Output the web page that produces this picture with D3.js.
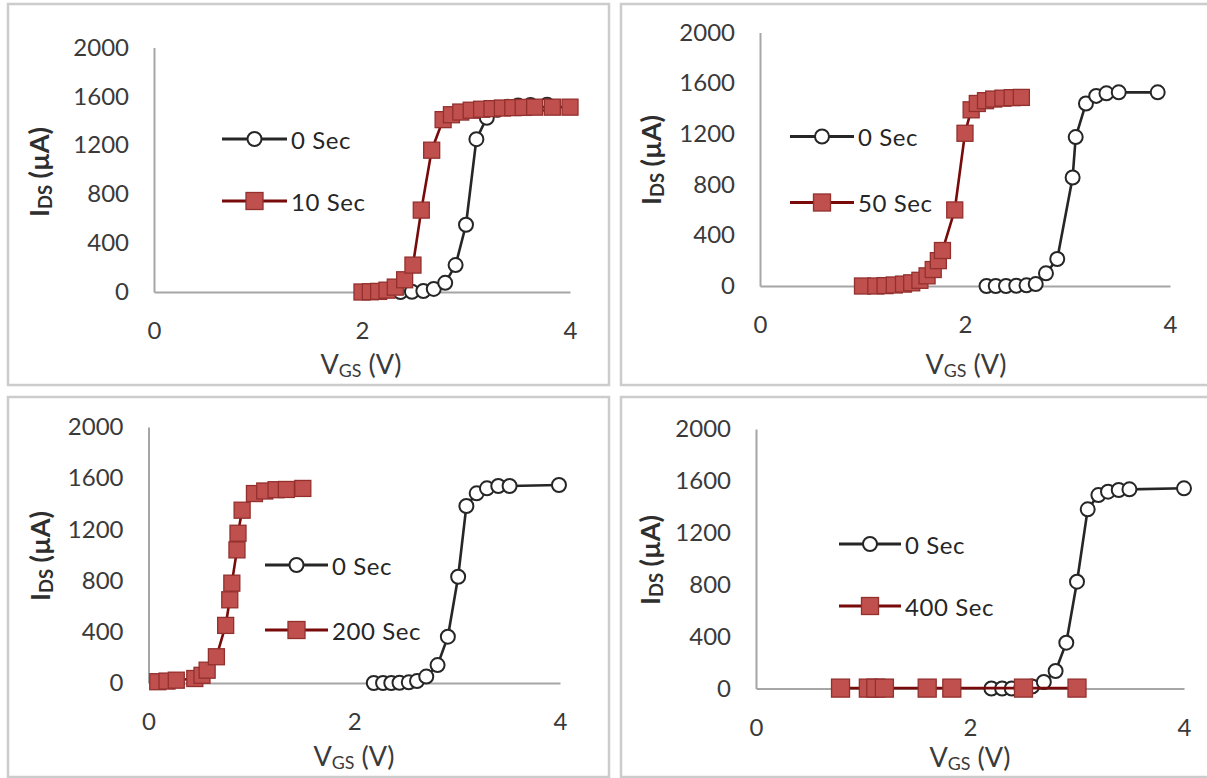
<!DOCTYPE html>
<html><head><meta charset="utf-8">
<script src="https://cdn.jsdelivr.net/npm/d3@7"></script>
<style>
body{margin:0;background:#fff}
svg{display:block}
text{font-family:Lato,"Open Sans",sans-serif}
</style>
</head><body>
<svg id="c" width="1207" height="778"></svg>
<script>
// ---------- data ----------
const xTicks = [0, 2, 4];
const yTicks = [0, 400, 800, 1200, 1600, 2000];
const legendLabels = [["0 Sec","10 Sec"],["0 Sec","50 Sec"],["0 Sec","200 Sec"],["0 Sec","400 Sec"]];

// [VGS (V), IDS (uA)]
const p1_0sec = [[2.20,0],[2.37,0],[2.48,2],[2.59,8],[2.69,25],[2.80,75],[2.90,220],[3.00,550],[3.10,1250],[3.20,1425],[3.30,1490],[3.40,1515],[3.50,1525],[3.62,1530],[3.78,1532]];
const p1_10sec = [[2.00,0],[2.08,2],[2.16,5],[2.24,15],[2.32,40],[2.41,100],[2.49,220],[2.57,670],[2.67,1160],[2.78,1410],[2.86,1450],[2.95,1472],[3.05,1487],[3.15,1495],[3.25,1500],[3.35,1505],[3.45,1508],[3.55,1510],[3.66,1512],[3.83,1512],[4.00,1512]];

const p2_0sec = [[2.21,0],[2.30,0],[2.40,0],[2.50,2],[2.60,5],[2.69,15],[2.79,100],[2.90,213],[3.05,856],[3.08,1175],[3.18,1440],[3.28,1500],[3.38,1520],[3.50,1528],[3.88,1528]];
const p2_50sec = [[1.00,0],[1.13,0],[1.22,3],[1.31,8],[1.40,15],[1.48,25],[1.56,45],[1.63,80],[1.69,130],[1.74,200],[1.78,280],[1.90,600],[2.00,1205],[2.06,1390],[2.12,1440],[2.20,1462],[2.28,1475],[2.37,1482],[2.46,1486],[2.55,1488]];

const p3_0sec = [[2.19,0],[2.28,0],[2.36,0],[2.44,2],[2.53,5],[2.61,15],[2.70,50],[2.81,140],[2.91,362],[3.01,830],[3.09,1383],[3.19,1482],[3.29,1521],[3.40,1539],[3.51,1539],[3.99,1547]];
const p3_200sec = [[0.09,10],[0.18,15],[0.27,22],[0.45,35],[0.52,60],[0.57,100],[0.66,205],[0.75,450],[0.79,650],[0.81,780],[0.86,1040],[0.87,1170],[0.91,1350],[1.03,1480],[1.13,1500],[1.24,1510],[1.34,1512],[1.50,1520]];

const p4_0sec = [[2.20,0],[2.30,0],[2.39,0],[2.48,5],[2.58,15],[2.69,50],[2.80,135],[2.90,353],[3.00,823],[3.10,1381],[3.20,1491],[3.29,1517],[3.39,1530],[3.49,1535],[4.00,1543]];
const p4_400sec = [[0.79,3],[1.05,3],[1.12,3],[1.20,3],[1.60,3],[1.83,3],[2.50,3],[3.00,3]];

const panelSeries = [[p1_0sec,p1_10sec],[p2_0sec,p2_50sec],[p3_0sec,p3_200sec],[p4_0sec,p4_400sec]];

// ---------- layout ----------
const layout = [
  {box:[8,4,609,385],  px:[154,570],  py:[292,47.5], leg:{x1:222,x2:287,ya:139,yb:201,tx:291}, xt:[361,363], yt:[38,172], ms:16},
  {box:[621,4,1215,385], px:[760,1170], py:[286,32.5], leg:{x1:790,x2:854,ya:136.5,yb:202.5,tx:858}, xt:[966,363], yt:[650,160], ms:16},
  {box:[8,397,609,777], px:[148.5,560], py:[683,427], leg:{x1:265,x2:328,ya:565,yb:630,tx:332}, xt:[354,755], yt:[39,556], ms:16},
  {box:[621,397,1215,777], px:[756,1184], py:[688.5,429], leg:{x1:839,x2:901,ya:544,yb:606,tx:905}, xt:[970,756], yt:[649,560], ms:18}
];

const FS = 24, TFS = 27;
const C0 = "#262626", C1 = "#780a0a", SQF = "#c0504d", SQS = "#93302e";
const svg = d3.select("#c");

function sq(g, x, y, s){
  g.append("rect").attr("x", x - s/2).attr("y", y - s/2).attr("width", s).attr("height", s)
    .attr("fill", SQF).attr("stroke", SQS).attr("stroke-width", 1.3);
}
function circ(g, x, y){
  g.append("circle").attr("cx", x).attr("cy", y).attr("r", 7)
    .attr("fill", "#fff").attr("stroke", C0).attr("stroke-width", 2);
}

layout.forEach((L, i) => {
  const g = svg.append("g");
  g.append("rect").attr("x", L.box[0]).attr("y", L.box[1])
    .attr("width", L.box[2]-L.box[0]).attr("height", L.box[3]-L.box[1])
    .attr("fill", "#fff").attr("stroke", "#cccccc").attr("stroke-width", 2.5);

  const x = d3.scaleLinear().domain([0,4]).range(L.px);
  const y = d3.scaleLinear().domain([0,2000]).range(L.py);

  const ya = g.append("g").attr("transform", `translate(${L.px[0]},0)`)
    .call(d3.axisLeft(y).tickValues(yTicks).tickSize(0).tickPadding(25).tickFormat(d3.format("d")));
  const xa = g.append("g").attr("transform", `translate(0,${L.py[0]})`)
    .call(d3.axisBottom(x).tickValues(xTicks).tickSize(0).tickPadding(30).tickFormat(d3.format("d")));
  [ya, xa].forEach(a => {
    a.select(".domain").attr("stroke", "#a6a6a6").attr("stroke-width", 2);
    a.selectAll("text").attr("font-size", FS).attr("fill", "#3a3a3a");
    a.attr("font-family", null).attr("font-size", null);
  });

  const xt = g.append("text").attr("x", L.xt[0]).attr("y", L.xt[1]).attr("text-anchor", "middle")
    .attr("dominant-baseline", "central").attr("font-size", TFS).attr("fill", "#3a3a3a");
  xt.append("tspan").text("V");
  xt.append("tspan").attr("font-size", TFS*0.66).attr("dy", 7).text("GS");
  xt.append("tspan").attr("dy", -7).text(" (V)");

  const yt = g.append("text").attr("transform", `translate(${L.yt[0]},${L.yt[1]}) rotate(-90)`)
    .attr("text-anchor", "middle").attr("dominant-baseline", "central")
    .attr("font-size", TFS).attr("font-weight", "bold").attr("fill", "#2e2e2e");
  yt.append("tspan").text("I");
  yt.append("tspan").attr("font-size", TFS*0.68).attr("dy", 7).text("DS");
  yt.append("tspan").attr("dy", -7).text(" (\u00b5A)");

  const line = d3.line().x(d => x(d[0])).y(d => y(d[1]));
  const [s0, s1] = panelSeries[i];
  g.append("path").datum(s0).attr("d", line).attr("fill", "none").attr("stroke", C0).attr("stroke-width", 2.6);
  s0.forEach(d => circ(g, x(d[0]), y(d[1])));
  g.append("path").datum(s1).attr("d", line).attr("fill", "none").attr("stroke", C1).attr("stroke-width", 2.6);
  s1.forEach(d => sq(g, x(d[0]), y(d[1]), L.ms));

  const lg = L.leg;
  g.append("line").attr("x1", lg.x1).attr("x2", lg.x2).attr("y1", lg.ya).attr("y2", lg.ya).attr("stroke", C0).attr("stroke-width", 3);
  circ(g, (lg.x1+lg.x2)/2, lg.ya);
  g.append("line").attr("x1", lg.x1).attr("x2", lg.x2).attr("y1", lg.yb).attr("y2", lg.yb).attr("stroke", C1).attr("stroke-width", 3);
  sq(g, (lg.x1+lg.x2)/2, lg.yb, 17);
  [lg.ya, lg.yb].forEach((yy, k) => {
    g.append("text").attr("x", lg.tx).attr("y", yy).attr("dominant-baseline", "central")
      .attr("font-size", FS).attr("fill", "#262626").attr("letter-spacing", 0.6).text(legendLabels[i][k]);
  });
});
</script>
</body></html>
